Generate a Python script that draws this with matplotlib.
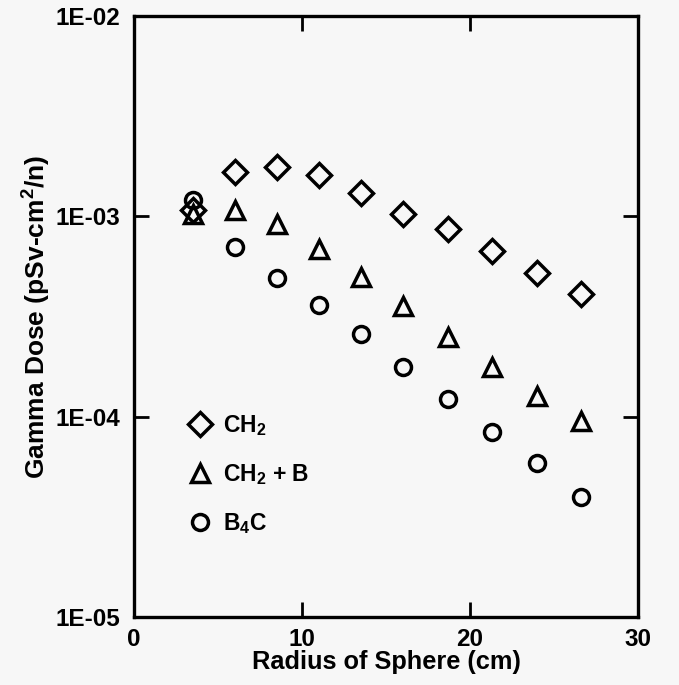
import numpy as np
import matplotlib.pyplot as plt

plt.rcParams['font.family'] = ['Liberation Sans', 'DejaVu Sans']
plt.rcParams['font.weight'] = 'bold'
plt.rcParams['axes.labelweight'] = 'bold'
plt.rcParams['mathtext.fontset'] = 'custom'
plt.rcParams['mathtext.rm'] = 'Liberation Sans:bold'
plt.rcParams['mathtext.default'] = 'rm'

radius = [3.5, 6.0, 8.5, 11.0, 13.5, 16.0, 18.7, 21.3, 24.0, 26.6]
dose_ch2 = [1.08e-3, 1.67e-3, 1.77e-3, 1.60e-3, 1.31e-3, 1.03e-3, 8.6e-4, 6.7e-4, 5.2e-4, 4.1e-4]
dose_ch2b = [1.03e-3, 1.08e-3, 9.2e-4, 6.85e-4, 5.0e-4, 3.55e-4, 2.51e-4, 1.77e-4, 1.27e-4, 9.5e-5]
dose_b4c = [1.2e-3, 7.0e-4, 4.92e-4, 3.59e-4, 2.58e-4, 1.77e-4, 1.23e-4, 8.4e-5, 5.87e-5, 3.98e-5]
labels = ['CH$_2$', 'CH$_2$ + B', 'B$_4$C']

bg = '#f7f7f7'
fig = plt.figure(figsize=(6.79, 6.85), dpi=100, facecolor=bg)
ax = fig.add_axes([0.1973, 0.0993, 0.7423, 0.8773], facecolor=bg)

mk = dict(ls='none', mfc='none', mec='black', mew=2.5)
ax.plot(radius, dose_ch2, marker='D', ms=12.5, label=labels[0], **mk)
ax.plot(radius, dose_ch2b, marker='^', ms=12.5, label=labels[1], **mk)
ax.plot(radius, dose_b4c, marker='o', ms=11.5, label=labels[2], **mk)

ax.set_yscale('log')
ax.set_xlim(0, 30)
ax.set_ylim(1e-5, 1e-2)
ax.set_xticks([0, 10, 20, 30])
ax.set_yticks([1e-5, 1e-4, 1e-3, 1e-2])
ax.set_yticklabels(['1E-05', '1E-04', '1E-03', '1E-02'])
ax.yaxis.set_minor_locator(plt.NullLocator())
ax.tick_params(which='major', direction='in', length=11, width=2, labelsize=17.5,
               top=True, right=True)
ax.tick_params(axis='x', pad=8)
ax.tick_params(axis='y', pad=10)
for s in ax.spines.values():
    s.set_linewidth(2.4)

ax.set_xlabel('Radius of Sphere (cm)', fontsize=18.3, labelpad=-1)
ax.set_ylabel('Gamma Dose (pSv-cm$^2$/n)', fontsize=19, labelpad=2)

ax.legend(loc='upper left', bbox_to_anchor=(0.09, 0.355), frameon=False,
          numpoints=1, fontsize=16.5, handlelength=1.0, handletextpad=0.5,
          labelspacing=1.05, borderaxespad=0)

plt.savefig('out.png', dpi=100, facecolor=bg)
